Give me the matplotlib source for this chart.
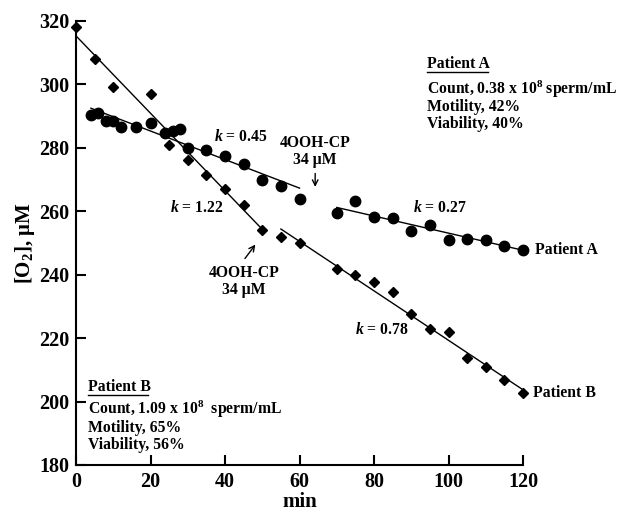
import numpy as np
import matplotlib
matplotlib.use('Agg')
import matplotlib.pyplot as plt

plt.rcParams['font.family'] = ['Liberation Serif', 'DejaVu Serif']
plt.rcParams['font.weight'] = 'bold'
plt.rcParams['mathtext.fontset'] = 'custom'
plt.rcParams['mathtext.rm'] = 'Liberation Serif:bold'
plt.rcParams['mathtext.it'] = 'Liberation Serif:italic:bold'
plt.rcParams['mathtext.bf'] = 'Liberation Serif:bold'

# Patient A (circles)
a_time = [4, 6, 8, 10, 12, 16, 20, 24, 26, 28, 30, 35, 40, 45, 50, 55, 60,
          70, 75, 80, 85, 90, 95, 100, 105, 110, 115, 120]
a_o2 = [290.3, 291.1, 288.6, 288.6, 286.7, 286.7, 287.9, 284.8, 285.4, 286.0, 280.0, 279.4,
        277.3, 274.8, 269.8, 268.0, 264.0,
        259.3, 263.2, 258.2, 258.0, 253.8, 255.7, 250.8, 251.4, 250.8, 249.2, 247.8]

# Patient B (diamonds)
b_time = [0, 5, 10, 20, 25, 30, 35, 40, 45, 50, 55, 60,
          70, 75, 80, 85, 90, 95, 100, 105, 110, 115, 120]
b_o2 = [318.1, 308.0, 299.2, 297.0, 280.9, 276.2, 271.4, 267.0, 262.0, 254.1, 251.9, 250.0,
        241.8, 239.9, 237.7, 234.5, 227.6, 222.8, 221.9, 213.7, 210.8, 206.8, 202.6]

# fitted lines: (x start, x end, intercept, k)
fits = [(4, 60, 294.3, 0.45),
        (70, 120, 280.1, 0.27),
        (0, 50, 315.3, 1.22),
        (55, 120, 297.3, 0.78)]

fig = plt.figure(figsize=(6.19, 5.13), dpi=100)
ax = fig.add_axes([0.1228, 0.0936, 0.7222, 0.8655])

for x0, x1, a, k in fits:
    xs = np.array([x0, x1])
    ax.plot(xs, a - k * xs, color='black', lw=1.0)

ax.plot(a_time, a_o2, 'o', color='black', ms=7.5, clip_on=False, zorder=3)
ax.plot(b_time, b_o2, 'D', color='black', ms=4.6, clip_on=False, zorder=3)

ax.set_xlim(0, 120)
ax.set_ylim(180, 320)
ax.set_xticks(range(0, 121, 20))
ax.set_yticks(range(180, 321, 20))
ax.tick_params(direction='in', length=7, width=1.5, labelsize=14.5, pad=5)
for lab in ax.get_xticklabels() + ax.get_yticklabels():
    lab.set_fontweight('bold')
for side in ['top', 'right']:
    ax.spines[side].set_visible(False)
for side in ['left', 'bottom']:
    ax.spines[side].set_linewidth(1.5)

ax.set_xlabel('min', fontsize=15, fontweight='bold', labelpad=0)
ax.set_ylabel(r'[O$_2$], μM', fontsize=15, fontweight='bold', labelpad=1)

fs = 11.3
ax.text(37, 283.5, r'$k$ = 0.45', fontsize=fs, va='center', ha='left')
ax.text(90.5, 261, r'$k$ = 0.27', fontsize=fs, va='center', ha='left')
ax.text(25.2, 261, r'$k$ = 1.22', fontsize=fs, va='center', ha='left')
ax.text(74.9, 222.5, r'$k$ = 0.78', fontsize=fs, va='center', ha='left')

ax.text(64.2, 278.8, '4OOH-CP\n34 μM', fontsize=fs, ha='center', va='center', linespacing=1.1)
ax.annotate('', xy=(64.2, 266.8), xytext=(64.2, 272.8),
            arrowprops=dict(arrowstyle='->', color='black', lw=1.0))
ax.text(45.1, 237.8, '4OOH-CP\n34 μM', fontsize=fs, ha='center', va='center', linespacing=1.1)
ax.annotate('', xy=(48.6, 250.2), xytext=(44.9, 244.4),
            arrowprops=dict(arrowstyle='->', color='black', lw=1.0))

ax.text(123.2, 247.8, 'Patient A', fontsize=fs, va='center', ha='left', clip_on=False)
ax.text(122.7, 202.6, 'Patient B', fontsize=fs, va='center', ha='left', clip_on=False)

# patient info blocks
ax.text(94.2, 306.4, 'Patient A', fontsize=fs, va='center', ha='left')
ax.plot([94.2, 110.6], [304.0, 304.0], color='black', lw=1.0)
ax.text(94.2, 298.4, r'Count, 0.38 x 10$^8$ sperm/mL', fontsize=fs, va='center', ha='left')
ax.text(94.2, 292.8, 'Motility, 42%', fontsize=fs, va='center', ha='left')
ax.text(94.2, 287.5, 'Viability, 40%', fontsize=fs, va='center', ha='left')

ax.text(3.3, 204.5, 'Patient B', fontsize=fs, va='center', ha='left')
ax.plot([3.3, 19.2], [202.1, 202.1], color='black', lw=1.0)
ax.text(3.3, 197.5, r'Count, 1.09 x 10$^8$  sperm/mL', fontsize=fs, va='center', ha='left')
ax.text(3.3, 191.6, 'Motility, 65%', fontsize=fs, va='center', ha='left')
ax.text(3.3, 186.4, 'Viability, 56%', fontsize=fs, va='center', ha='left')

fig.savefig('out.png', dpi=100)
